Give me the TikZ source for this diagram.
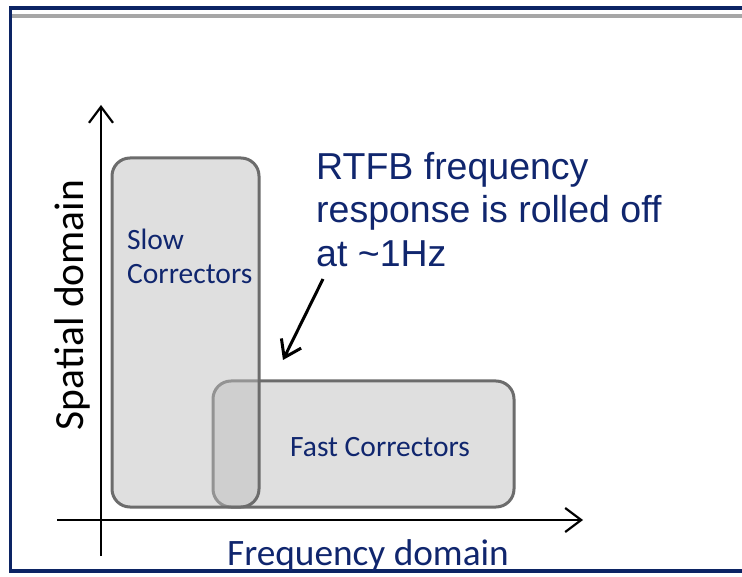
\documentclass[tikz,border=0pt]{standalone}
\usepackage{fontspec}
\setmainfont{Carlito}
\newfontfamily\arialfont{Liberation Sans}
\usetikzlibrary{arrows.meta}
\definecolor{navy}{RGB}{16,38,110}
\definecolor{framenavy}{RGB}{12,36,100}
\definecolor{boxfill}{RGB}{190,190,190}
\definecolor{boxline}{RGB}{108,108,108}
\tikzset{
  corrbox/.style={draw=boxline, line width=3pt, fill=boxfill, fill opacity=0.48, draw opacity=1,
    rounded corners=18pt, inner sep=0pt, text opacity=1},
  axis/.style={line width=2.2pt, -{Straight Barb[length=16pt,width=24pt,line width=2.2pt]}},
  callout/.style={line width=3pt, -{Straight Barb[length=16pt,width=22pt,line width=3pt]}},
  navytext/.style={text=navy, inner sep=0pt},
}
\begin{document}
\begin{tikzpicture}[x=1pt,y=-1pt]
\useasboundingbox (0,0) rectangle (742,577);
\fill[white] (0,0) rectangle (742,577);
% frame
\draw[line width=4pt, color=black!35] (11,16.5) -- (742,16.5);
\draw[line width=4pt, framenavy] (9,8) -- (742,8);
\draw[line width=3pt, framenavy] (10,8) -- (10,572);
\draw[line width=4pt, framenavy] (9,571) -- (742,571);
% boxes
\node[corrbox, minimum width=301pt, minimum height=126pt] (fast) at (363.5,444) {};
\node[corrbox, minimum width=147pt, minimum height=349pt] (slow) at (185.5,332.5) {};
% axes
\coordinate (ybot) at (101,556);
\coordinate (ytop) at (101,105);
\coordinate (xleft) at (57,520);
\coordinate (xright) at (583,520);
\draw[axis] (ybot) -- (ytop);
\draw[axis] (xleft) -- (xright);
% labels
\node[navytext, anchor=north west, align=left, font=\fontsize{29.5}{34}\selectfont] (slowlbl) at (127,229) {Slow\\Correctors};
\node[navytext, anchor=base, font=\fontsize{29.5}{34}\selectfont] (fastlbl) at (380,456) {Fast Correctors};
\node[navytext, anchor=base, font=\fontsize{37.3}{44}\selectfont] (xlabel) at (368,565) {Frequency domain};
\node[text=black, inner sep=0pt, anchor=base, rotate=90, font=\fontsize{41.5}{48}\selectfont] (ylabel) at (83,305) {Spatial domain};
\node[navytext, anchor=north west, align=left, font=\arialfont\fontsize{37.5}{43.5}\selectfont] (note) at (316,152) {RTFB frequency\\response is rolled off\\at \textasciitilde 1Hz};
% callout arrow
\coordinate (cstart) at (323,279);
\coordinate (cend) at (283,360);
\draw[callout] (cstart) -- (cend);
\end{tikzpicture}
\end{document}
